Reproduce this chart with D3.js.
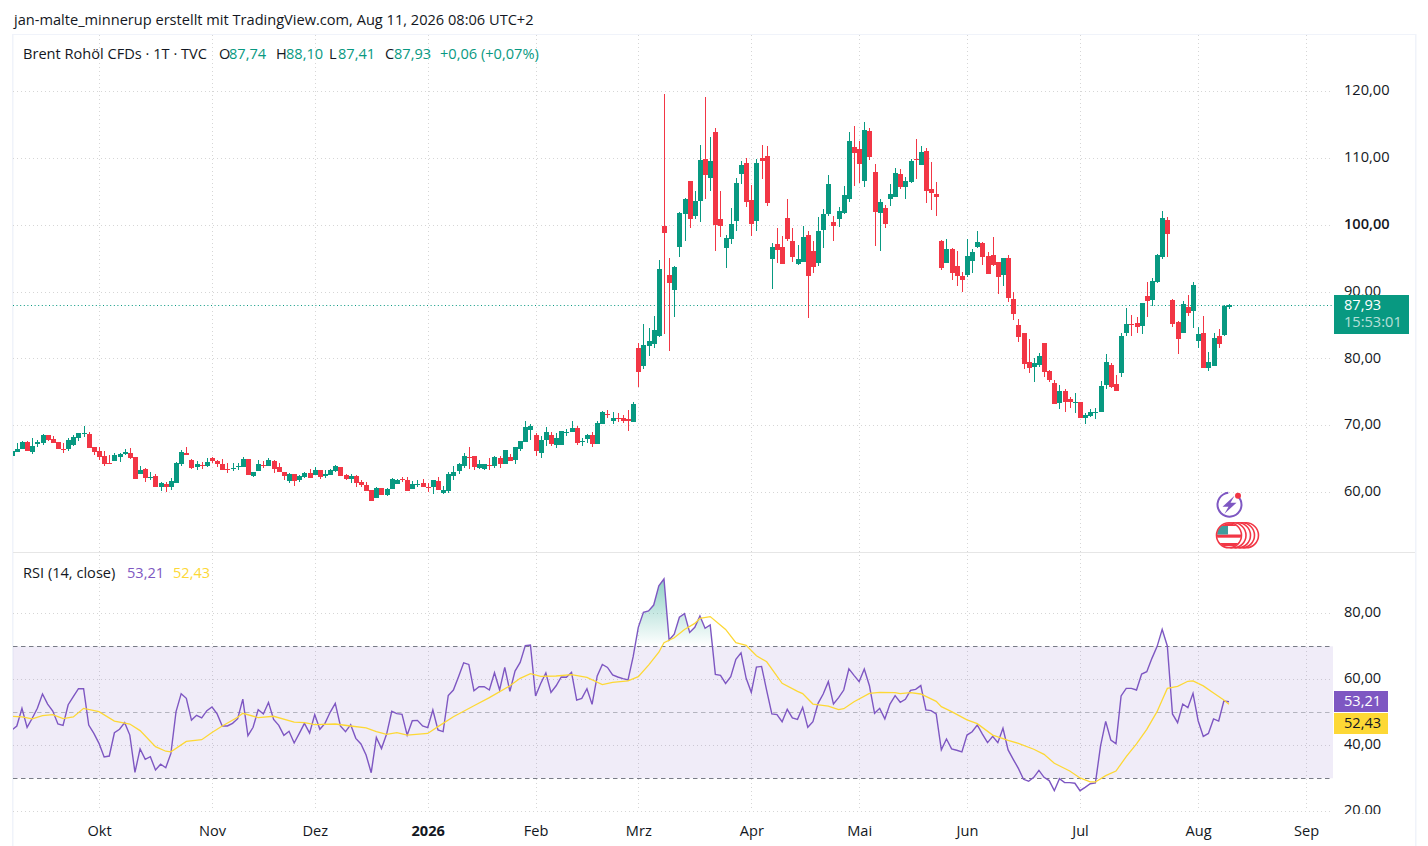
<!DOCTYPE html>
<html>
<head>
<meta charset="utf-8">
<script src="https://cdn.jsdelivr.net/npm/d3@7"></script>
<style>
html, body { margin: 0; padding: 0; background: #fff; overflow: hidden; }
text { font-family: "Open Sans", "Noto Sans", sans-serif; font-size: 14.6px; fill: #131722; }
</style>
</head>
<body>
<div id="chart"></div>
<script>
// Daily candles
var opens = [
    65.4,66.0,66.4,67.5,66.0,67.2,67.4,68.5,67.9,67.5,
    66.5,66.4,67.0,68.1,68.8,68.7,66.7,66.1,65.4,64.3,
    64.6,65.2,65.7,65.8,65.2,62.7,63.4,62.2,62.4,60.7,
    61.2,60.7,61.3,64.2,65.8,64.8,63.7,64.0,63.9,65.1,
    64.6,64.2,63.5,63.5,63.8,63.7,65.0,62.4,63.1,64.0,
    63.9,64.6,63.7,63.0,61.6,62.7,61.8,62.2,62.8,62.5,
    63.3,62.4,62.5,63.1,63.7,62.5,62.0,62.4,61.5,61.0,
    60.3,59.1,60.6,59.6,60.5,61.2,61.9,61.8,60.5,61.1,
    61.3,60.7,60.7,61.6,59.9,60.2,62.4,63.1,63.9,65.3,
    65.4,63.6,63.4,64.0,63.9,65.1,64.2,65.2,64.8,66.4,
    67.5,69.3,68.5,65.8,67.8,68.5,67.0,67.0,69.0,69.0,
    69.6,67.6,67.9,68.5,67.2,70.2,71.6,70.6,71.0,71.1,
    70.9,70.5,81.55,78.85,81.85,82.15,83.35,99.8,92.5,90.25,
    96.65,101.6,106.55,101.3,103.55,109.85,107.0,113.85,100.85,96.5,
    97.85,100.55,107.6,109.25,103.7,100.55,110.0,110.3,94.85,97.1,
    96.65,101.0,97.55,94.1,94.4,98.45,96.05,94.25,99.2,101.6,
    100.4,100.85,101.75,103.85,111.6,111.3,106.55,114.0,107.9,101.75,
    102.5,103.85,104.15,107.6,105.65,106.4,109.8,108.95,111.05,105.35,
    104.6,97.55,94.25,96.35,93.8,92.3,92.45,94.55,96.65,97.25,
    95.3,95.45,94.4,92.45,95.0,88.9,85.0,83.8,79.45,78.7,
    79.0,82.3,78.1,76.3,73.3,75.1,73.9,73.45,73.45,71.05,
    71.35,71.9,72.0,76.0,79.0,76.15,77.8,83.8,85.1,85.3,
    84.85,89.3,88.7,91.4,95.15,100.7,88.7,85.45,83.8,87.7,
    87.1,82.6,83.8,78.55,78.85,83.35,83.5,87.74
];
var highs = [
    66.1,67.3,67.7,67.7,68.1,67.8,68.7,68.5,68.4,67.5,
    67.3,68.1,68.5,68.8,69.9,69.0,66.7,66.7,66.1,65.5,
    65.8,65.8,66.4,66.6,65.2,63.9,63.6,63.0,62.7,61.5,
    61.5,62.1,64.5,66.3,66.7,64.9,64.6,64.5,65.1,65.2,
    64.8,64.9,64.3,64.3,64.3,65.2,65.0,63.0,64.8,64.6,
    65.1,64.8,64.3,63.0,62.8,62.7,62.5,63.0,63.4,63.7,
    63.3,63.3,63.4,64.0,63.7,62.7,62.7,62.5,61.8,61.5,
    60.3,60.8,60.6,60.6,62.1,62.0,62.2,62.2,61.6,61.8,
    61.9,61.3,61.8,62.2,60.9,63.0,63.9,64.3,65.8,66.7,
    65.4,64.8,64.2,65.1,65.4,65.4,66.3,65.7,66.7,67.6,
    70.6,70.2,68.8,68.4,69.7,69.0,68.8,69.1,69.4,70.6,
    69.9,68.1,68.7,69.0,70.6,72.1,72.3,72.0,71.8,71.5,
    72.3,73.5,82.3,85.1,84.5,86.3,94.7,119.55,95.0,93.8,
    101.9,104.0,106.55,105.05,111.9,119.1,113.1,114.45,105.05,98.45,
    102.5,107.0,109.55,110.0,105.95,109.85,111.9,111.75,97.25,99.5,
    98.3,103.85,99.5,97.0,99.8,99.05,97.55,101.15,102.35,107.45,
    101.3,102.65,105.8,113.85,114.75,112.5,115.35,114.45,109.1,103.85,
    102.95,106.1,108.5,108.35,107.15,109.8,112.8,111.75,111.5,109.4,
    106.4,97.7,97.85,96.5,96.05,92.9,97.85,96.35,99.05,97.4,
    95.9,98.15,94.4,95.0,95.45,89.95,85.9,83.8,82.9,80.05,
    80.8,82.3,78.25,76.75,76.0,75.4,74.2,74.8,73.45,71.8,
    72.4,72.55,76.6,80.65,79.3,77.5,83.8,87.55,86.5,86.2,
    88.3,91.4,92.0,95.6,102.05,101.15,88.9,85.6,88.6,89.5,
    91.4,84.7,86.3,80.95,83.8,84.4,88.0,88.10
];
var lows = [
    65.4,66.0,66.4,66.2,65.7,66.8,67.0,67.6,67.3,66.4,
    65.9,66.2,66.9,67.6,68.3,66.6,65.5,64.8,63.9,64.2,
    64.6,64.5,65.6,64.9,61.9,62.7,61.5,61.8,60.7,60.1,
    60.0,60.3,61.3,63.9,65.5,63.4,63.3,63.4,63.7,64.3,
    63.7,63.3,62.8,63.1,63.3,63.7,62.5,62.2,63.1,63.6,
    63.9,62.8,63.0,61.8,61.3,60.9,61.5,62.1,62.1,62.5,
    62.0,62.1,62.5,63.0,62.4,61.8,61.4,60.8,60.8,60.2,
    58.6,59.1,59.6,59.4,60.5,61.2,61.5,60.2,60.5,60.8,
    60.7,60.0,59.7,60.3,59.7,59.9,61.8,62.7,63.6,63.4,
    63.3,63.4,63.3,63.3,63.6,63.6,64.2,64.6,64.2,66.1,
    67.5,67.8,65.4,65.1,66.9,66.9,66.6,67.0,68.4,69.0,
    67.0,66.9,67.3,66.7,67.2,70.2,71.1,70.2,70.5,70.3,
    69.1,70.5,75.7,78.4,80.35,81.55,83.2,83.65,81.1,86.2,
    95.2,97.55,99.5,100.85,100.4,103.85,105.05,96.05,98.15,93.5,
    97.1,99.05,106.1,102.65,98.3,99.05,106.85,102.8,90.4,94.25,
    94.1,97.55,94.4,94.0,94.4,86.05,92.75,93.8,96.5,101.3,
    97.55,99.65,101.6,103.4,105.8,106.25,105.65,109.7,96.8,96.05,
    99.5,102.8,104.15,105.35,103.85,106.25,106.85,108.95,103.25,102.2,
    101.3,93.2,94.25,91.7,90.8,89.9,92.15,92.75,96.5,93.95,
    92.6,93.8,89.6,90.8,88.4,85.75,82.45,78.4,77.8,76.45,
    78.7,77.2,76.45,73.15,72.4,72.0,72.55,71.8,71.05,70.2,
    71.2,70.9,72.0,75.4,75.55,75.1,77.2,83.35,83.35,83.8,
    83.65,86.2,87.85,91.25,94.85,95.15,84.7,80.65,83.8,86.3,
    84.55,81.55,78.55,78.1,78.85,81.55,83.35,87.41
];
var closes = [
    66.1,66.4,67.5,66.2,66.9,67.5,68.5,67.8,67.3,66.4,
    66.5,67.8,68.2,68.8,68.9,66.6,66.0,65.2,64.2,64.3,
    65.5,65.7,66.0,65.1,61.9,63.3,62.1,62.3,60.7,61.3,
    60.7,61.6,64.3,66.0,65.5,63.6,64.2,64.0,64.5,64.6,
    64.2,63.3,63.5,63.6,63.9,65.0,62.5,63.0,64.2,64.0,
    64.8,63.5,63.0,62.4,62.7,61.6,62.4,62.8,62.1,63.3,
    62.2,62.7,63.3,63.9,62.4,62.0,62.4,61.4,61.0,60.2,
    58.6,60.6,59.6,60.5,62.0,61.8,61.9,60.2,61.2,61.2,
    60.7,60.7,61.8,60.3,60.3,62.7,63.0,64.2,65.4,65.3,
    63.7,64.2,64.2,64.0,65.2,64.2,66.3,64.6,66.7,67.6,
    69.7,69.9,66.1,67.8,69.0,67.2,68.1,69.1,69.05,69.6,
    67.3,67.7,68.5,67.2,70.3,72.0,71.6,71.1,71.0,70.6,
    70.6,73.2,77.96,82.0,82.6,84.25,93.4,98.75,91.3,93.7,
    101.75,103.85,100.85,103.55,109.7,107.45,109.55,99.95,99.8,98.0,
    100.1,106.25,108.95,103.4,100.1,109.25,109.55,103.25,96.65,96.2,
    94.1,97.85,95.15,94.85,98.15,92.3,93.65,99.05,101.6,106.1,
    99.8,102.05,104.45,112.5,110.75,109.05,114.15,110.15,101.9,103.4,
    100.1,104.6,107.75,105.65,106.55,109.5,109.75,110.9,105.05,104.75,
    104.15,93.5,96.35,92.75,92.3,91.7,95.3,95.9,97.4,95.15,
    92.6,93.95,92.15,95.0,89.0,86.65,83.2,79.15,78.55,79.3,
    80.35,77.95,76.75,73.15,75.1,73.45,73.45,73.5,71.05,71.5,
    72.0,71.95,75.85,79.45,75.7,75.1,83.35,85.15,85.05,84.7,
    88.3,88.6,91.55,95.45,101.0,98.6,85.15,82.9,88.1,86.8,
    91.0,83.65,78.55,79.45,83.05,82.15,87.85,87.93
];

// RSI (14), one reading per candle
var rsiValues = [
    44.6,45.85,51.2,45.45,48.2,51.2,55.55,52.5,50.4,46.45,
    46.05,52.3,54.75,57.15,57.15,46.15,43.6,40.6,36.45,36.75,
    43.8,44.85,46.85,43.1,31.8,38.9,35.75,36.55,32.5,34.25,
    33.2,37.55,50.2,55.65,54.25,47.65,49.1,48.3,50.5,51.6,
    49.5,45.85,45.85,46.65,48.05,54.0,42.9,45.45,50.8,49.5,
    53.0,47.85,46.05,43.0,44.25,40.7,43.6,46.65,43.7,49.3,
    44.85,46.65,50.0,52.7,45.85,44.15,46.25,42.1,40.4,37.05,
    31.7,42.4,39.0,43.4,50.3,49.6,49.4,43.1,47.45,47.55,
    45.85,45.35,50.7,44.65,44.15,55.1,56.75,60.8,65.0,64.5,
    56.55,57.75,57.75,56.75,62.0,56.75,63.6,56.35,62.5,65.1,
    70.2,70.4,54.95,58.75,61.9,56.05,58.05,60.7,60.6,62.1,
    53.7,54.2,57.15,52.4,61.0,64.5,63.6,61.3,60.7,60.2,
    59.8,66.85,75.75,80.3,80.7,82.5,88.3,90.4,71.9,73.7,
    78.8,79.9,74.2,75.75,79.2,75.45,76.45,61.5,61.2,58.75,
    60.8,66.05,68.0,60.3,56.05,63.7,63.9,56.55,49.5,49.3,
    47.15,50.9,48.3,47.85,51.5,45.45,47.15,52.7,55.55,59.3,
    52.5,54.45,56.75,63.2,61.2,59.3,63.1,58.05,49.7,51.2,
    48.0,52.5,55.05,53.05,53.95,56.65,56.95,58.1,50.7,50.5,
    49.5,38.6,41.9,38.9,38.5,38.0,43.1,44.1,46.15,43.4,
    40.8,42.7,40.8,45.15,38.6,35.75,33.0,29.7,29.1,30.3,
    32.4,30.3,29.3,26.25,29.9,28.7,28.7,28.5,26.25,27.25,
    28.35,28.6,39.8,47.25,41.6,40.5,54.95,57.25,57.25,56.75,
    61.6,62.3,66.35,69.9,75.15,70.1,49.5,46.85,52.5,51.4,
    55.75,47.45,42.7,43.6,48.0,47.35,53.4,53.21
];

// RSI moving average, readings at the candle numbers in maIndex
var maIndex = [
    0,2,4,6,8,10,12,14,17,20,23,25,28,30,31,34,37,39,41,44,45,48,51,55,57,59,63,66,69,71,73,75,77,81,
    83,86,90,93,97,99,101,103,106,109,112,115,117,120,122,124,126,127,129,131,133,134,136,139,141,143,145,147,150,153,154,156,159,161,162,164,167,
    169,172,173,175,177,180,181,183,186,188,191,194,196,199,201,203,206,208,210,211,213,215,217,219,221,223,224,225,227,229,230,232,234,236,237
];
var maValues = [
    48.8,48.6,48.0,49.0,49.3,48.1,48.6,51.2,50.2,47.35,46.45,44.45,39.6,38.2,38.0,41.2,41.7,43.9,45.85,48.5,49.7,48.4,48.8,47.0,46.85,46.25,46.45,45.85,45.25,44.15,43.3,43.85,43.1,43.6,
    45.65,48.65,52.0,54.45,58.05,60.3,61.7,60.9,61.0,61.4,60.6,58.4,59.1,59.5,60.8,64.3,68.2,71.1,72.6,75.1,76.95,78.5,79.0,75.1,71.1,70.3,67.15,65.3,58.8,56.35,55.65,52.5,51.9,50.8,51.1,53.2,55.75,
    56.05,55.95,55.65,55.95,55.55,53.3,51.7,50.2,47.7,46.55,43.1,41.5,40.6,38.8,37.25,34.55,32.2,30.1,28.9,28.9,30.8,32.2,36.55,40.4,44.85,50.2,53.7,57.25,57.85,59.4,59.5,58.0,55.85,53.75,52.43
];

var monthIndex = [17, 39, 59, 81, 102, 122, 144, 165, 186, 208, 231, 252];
var monthLabels = ["Okt", "Nov", "Dez", "2026", "Feb", "Mrz", "Apr", "Mai", "Jun", "Jul", "Aug", "Sep"];
var priceTicks = [60, 70, 80, 90, 100, 110, 120];
var rsiTicks = [20, 40, 60, 80];
var rsiBands = [70, 50, 30];

var lastPrice = 87.93, lastRsi = 53.21, lastMa = 52.43;

var WIDTH = 1428, HEIGHT = 846;
var PANE_LEFT = 13, PANE_RIGHT = 1333;
var MAIN_TOP = 35, MAIN_BOTTOM = 552, RSI_TOP = 553, RSI_BOTTOM = 815;
var AXIS_X = 1344;
var GREEN = "#089981", RED = "#f23645", PURPLE = "#7e57c2", YELLOW = "#fdd835";

var num = d3.formatLocale({ decimal: ",", thousands: ".", grouping: [3], currency: ["", ""] }).format(".2f");

var x = d3.scaleLinear().domain([17, 252]).range([99, 1306]);
var y = d3.scaleLinear().domain([60, 120]).range([492, 91]);
var yRsi = d3.scaleLinear().domain([20, 80]).range([811.3, 613.3]);

var svg = d3.select("#chart").append("svg")
    .attr("width", WIDTH)
    .attr("height", HEIGHT)
    .style("display", "block");

var defs = svg.append("defs");

function addClip(id, x0, y0, x1, y1) {
    defs.append("clipPath").attr("id", id).append("rect")
        .attr("x", x0).attr("y", y0)
        .attr("width", x1 - x0).attr("height", y1 - y0);
}
addClip("clipMain", PANE_LEFT, MAIN_TOP, PANE_RIGHT, MAIN_BOTTOM);
addClip("clipRsi", PANE_LEFT, RSI_TOP, PANE_RIGHT, RSI_BOTTOM);
addClip("clipAbove70", PANE_LEFT, RSI_TOP, PANE_RIGHT, yRsi(70));
addClip("clipRsiAxis", PANE_RIGHT, RSI_TOP, WIDTH, RSI_BOTTOM - 1);

var grad = defs.append("linearGradient").attr("id", "overbought")
    .attr("gradientUnits", "userSpaceOnUse")
    .attr("x1", 0).attr("x2", 0)
    .attr("y1", yRsi(d3.max(rsiValues))).attr("y2", yRsi(70));
grad.append("stop").attr("offset", 0).attr("stop-color", GREEN).attr("stop-opacity", 0.45);
grad.append("stop").attr("offset", 1).attr("stop-color", GREEN).attr("stop-opacity", 0);

// Chart frame
svg.append("rect").attr("x", 12).attr("y", 34).attr("width", 1.5).attr("height", HEIGHT - 34).attr("fill", "#f0f3fa");
svg.append("rect").attr("x", 12).attr("y", 34).attr("width", 1404).attr("height", 1).attr("fill", "#f0f3fa");
svg.append("rect").attr("x", 1415).attr("y", 34).attr("width", 1.5).attr("height", HEIGHT - 34).attr("fill", "#f0f3fa");
svg.append("rect").attr("x", 13).attr("y", 552).attr("width", 1402).attr("height", 1).attr("fill", "#e6e6e6");

// Grid
var grid = svg.append("g")
    .attr("fill", "none")
    .attr("stroke", "#d6d6d6")
    .attr("stroke-dasharray", "1 3");

grid.selectAll(".v").data(monthIndex).enter().append("line")
    .attr("x1", function(d) { return Math.round(x(d)) + 0.5; })
    .attr("x2", function(d) { return Math.round(x(d)) + 0.5; })
    .attr("y1", MAIN_TOP)
    .attr("y2", 811);

grid.selectAll(".h").data(priceTicks).enter().append("line")
    .attr("x1", PANE_LEFT)
    .attr("x2", PANE_RIGHT)
    .attr("y1", function(d) { return Math.round(y(d)) + 0.5; })
    .attr("y2", function(d) { return Math.round(y(d)) + 0.5; });

// RSI band
svg.append("rect")
    .attr("x", PANE_LEFT).attr("y", yRsi(70))
    .attr("width", PANE_RIGHT - PANE_LEFT)
    .attr("height", yRsi(30) - yRsi(70))
    .attr("fill", "#7e57c2").attr("fill-opacity", 0.115);

grid.selectAll(".r").data(rsiTicks).enter().append("line")
    .attr("x1", PANE_LEFT)
    .attr("x2", PANE_RIGHT)
    .attr("y1", function(d) { return Math.round(yRsi(d)) + 0.5; })
    .attr("y2", function(d) { return Math.round(yRsi(d)) + 0.5; });

svg.selectAll(".band").data(rsiBands).enter().append("line")
    .attr("x1", PANE_LEFT)
    .attr("x2", PANE_RIGHT)
    .attr("y1", function(d) { return Math.round(yRsi(d)) + 0.5; })
    .attr("y2", function(d) { return Math.round(yRsi(d)) + 0.5; })
    .attr("stroke", "#787b86")
    .attr("stroke-opacity", function(d) { return d === 50 ? 0.5 : 1; })
    .attr("stroke-dasharray", "4.5 3.5");

// Candles
var candleData = closes.map(function(c, i) {
    return { i: i, open: opens[i], high: highs[i], low: lows[i], close: c };
});
function candleColor(d) { return d.close > d.open ? GREEN : RED; }

var mainPane = svg.append("g").attr("clip-path", "url(#clipMain)");

// last price line
mainPane.append("line")
    .attr("x1", PANE_LEFT).attr("x2", PANE_RIGHT)
    .attr("y1", Math.round(y(lastPrice)) + 0.5).attr("y2", Math.round(y(lastPrice)) + 0.5)
    .attr("stroke", GREEN)
    .attr("stroke-dasharray", "1 2.6");

var candles = mainPane.selectAll(".candle").data(candleData).enter().append("g")
    .attr("fill", candleColor)
    .attr("shape-rendering", "crispEdges");

candles.append("rect")
    .attr("x", function(d) { return Math.round(x(d.i)) - 0.5; })
    .attr("width", 1)
    .attr("y", function(d) { return y(d.high); })
    .attr("height", function(d) { return y(d.low) - y(d.high); });

candles.append("rect")
    .attr("x", function(d) { return Math.round(x(d.i)) - 2.5; })
    .attr("width", 5)
    .attr("y", function(d) { return y(Math.max(d.open, d.close)); })
    .attr("height", function(d) { return Math.max(1, Math.abs(y(d.open) - y(d.close))); });

// RSI pane
var rsiPane = svg.append("g").attr("clip-path", "url(#clipRsi)");

rsiPane.append("path")
    .datum(rsiValues)
    .attr("clip-path", "url(#clipAbove70)")
    .attr("fill", "url(#overbought)")
    .attr("d", d3.area()
        .x(function(d, i) { return x(i); })
        .y0(yRsi(70))
        .y1(function(d) { return yRsi(d); }));

rsiPane.append("path")
    .datum(rsiValues)
    .attr("fill", "none")
    .attr("stroke", PURPLE)
    .attr("stroke-width", 1.4)
    .attr("d", d3.line()
        .x(function(d, i) { return x(i); })
        .y(function(d) { return yRsi(d); }));

rsiPane.append("path")
    .datum(maValues)
    .attr("fill", "none")
    .attr("stroke", YELLOW)
    .attr("stroke-width", 1.3)
    .attr("d", d3.line()
        .x(function(d, i) { return x(maIndex[i]); })
        .y(function(d) { return yRsi(d); }));

// Axes
function styleAxis(g) {
    g.attr("font-size", null).attr("font-family", null);
    g.select(".domain").remove();
    g.selectAll(".tick line").remove();
    g.selectAll(".tick text").attr("fill", null);
}

var priceAxis = svg.append("g")
    .attr("transform", "translate(" + AXIS_X + ",-1)")
    .call(d3.axisRight(y).tickValues(priceTicks).tickFormat(num).tickSize(0).tickPadding(0))
    .call(styleAxis);
priceAxis.selectAll(".tick text")
    .style("font-weight", function(d) { return d === 100 ? 600 : null; });

svg.append("g")
    .attr("clip-path", "url(#clipRsiAxis)")
    .append("g")
    .attr("transform", "translate(" + AXIS_X + ",-1)")
    .call(d3.axisRight(yRsi).tickValues(rsiTicks).tickFormat(num).tickSize(0).tickPadding(0))
    .call(styleAxis);

var timeAxis = svg.append("g")
    .attr("transform", "translate(0,824)")
    .call(d3.axisBottom(x).tickValues(monthIndex)
        .tickFormat(function(d) { return monthLabels[monthIndex.indexOf(d)]; })
        .tickSize(0).tickPadding(0))
    .call(styleAxis);
timeAxis.selectAll(".tick text")
    .attr("dy", "0.8em")
    .style("font-weight", function(d) { return monthLabels[monthIndex.indexOf(d)] === "2026" ? 700 : null; });

// Value labels on the axis
function axisLabel(x0, y0, w, h, color) {
    svg.append("rect").attr("x", x0).attr("y", y0).attr("width", w).attr("height", h).attr("fill", color);
}
function label(txt, px, py, color, opacity) {
    var t = svg.append("text").attr("x", px).attr("y", py).text(txt);
    if (color) t.style("fill", color);
    if (opacity) t.style("opacity", opacity);
    return t;
}

axisLabel(1334, 295, 75, 39, GREEN);
label(num(lastPrice), AXIS_X, 310, "#fff").style("font-weight", 500);
label("15:53:01", AXIS_X, 327, "#fff", 0.7);
axisLabel(1334, 691, 54, 21, PURPLE);
label(num(lastRsi), AXIS_X, 706, "#fff");
axisLabel(1334, 713, 54, 21, YELLOW);
label(num(lastMa), AXIS_X, 728, "#131722");

// Titles
label("jan-malte_minnerup erstellt mit TradingView.com, Aug 11, 2026 08:06 UTC+2", 14, 25);
label("Brent Rohöl CFDs · 1T · TVC", 23, 59);
[["O", 219, "87,74", 229], ["H", 276, "88,10", 286], ["L", 329, "87,41", 338], ["C", 385, "87,93", 394]].forEach(function(o) {
    label(o[0], o[1], 59);
    label(o[2], o[3], 59, GREEN);
});
label("+0,06 (+0,07%)", 440, 59, GREEN);
label("RSI (14, close)", 23, 578);
label(num(lastRsi), 127, 578, PURPLE);
label(num(lastMa), 173, 578, YELLOW);

// Event icons
var bolt = svg.append("g").attr("transform", "translate(1229.5,504.7)");
bolt.append("path")
    .attr("d", d3.arc().innerRadius(11).outerRadius(13).startAngle(0.75).endAngle(2 * Math.PI - 0.1)())
    .attr("fill", PURPLE);
bolt.append("path")
    .attr("d", "M5,-9 L-7,2 L-1,2 L-5,9 L7,-2 L1,-2 Z")
    .attr("fill", PURPLE);
svg.append("circle").attr("cx", 1238).attr("cy", 495.7).attr("r", 3).attr("fill", RED);

var flags = svg.append("g").attr("transform", "translate(0,535.3)");
[1246, 1242, 1238, 1233.5].forEach(function(cx) {
    flags.append("circle").attr("cx", cx).attr("cy", 0).attr("r", 12.5)
        .attr("fill", "#fff").attr("stroke", RED).attr("stroke-width", 1.6);
});
defs.append("clipPath").attr("id", "clipFlag").append("circle").attr("cx", 1229).attr("cy", 535.3).attr("r", 12);
var flag = svg.append("g").attr("clip-path", "url(#clipFlag)");
flag.append("rect").attr("x", 1216).attr("y", 523).attr("width", 26).attr("height", 25).attr("fill", "#fff");
[523, 534.5, 543].forEach(function(sy) {
    flag.append("rect").attr("x", 1216).attr("y", sy).attr("width", 26).attr("height", sy === 523 ? 3 : 3.2).attr("fill", RED);
});
flag.append("rect").attr("x", 1216).attr("y", 526).attr("width", 12).attr("height", 8.5).attr("fill", "#3f9c9c");
svg.append("circle").attr("cx", 1229).attr("cy", 535.3).attr("r", 12.5)
    .attr("fill", "none").attr("stroke", RED).attr("stroke-width", 1.6);
</script>
</body>
</html>
